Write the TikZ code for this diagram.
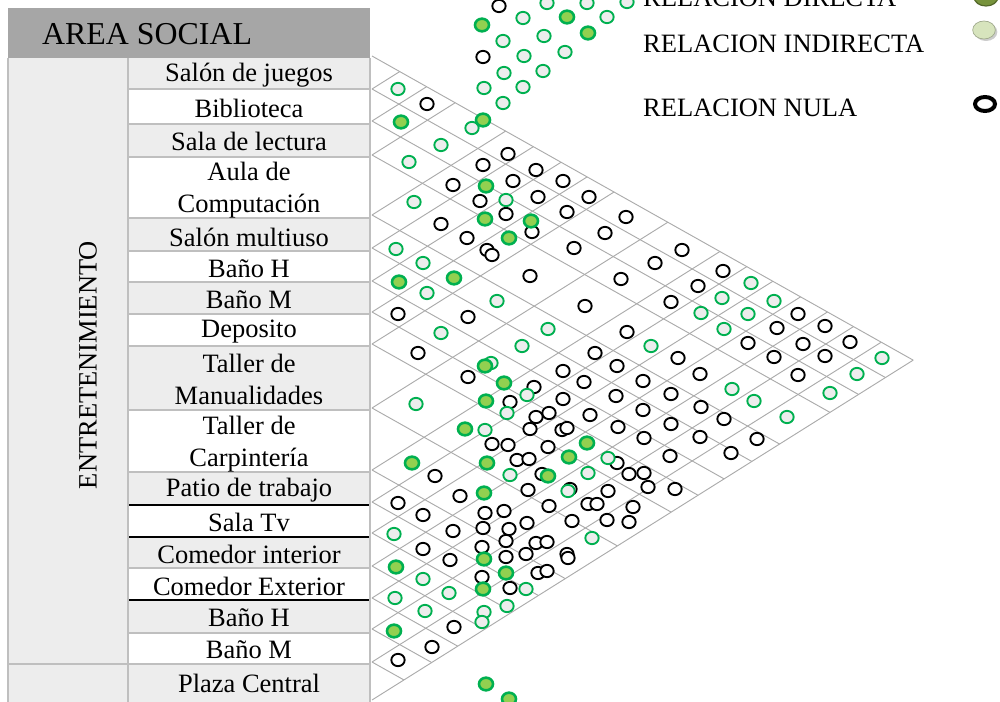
\documentclass[tikz,border=0pt]{standalone}
\usepackage{fontspec}
\setmainfont{Liberation Serif}
\usepackage{tikz}
\usetikzlibrary{positioning}
\definecolor{hdrgray}{HTML}{A6A6A6}
\definecolor{cellgray}{HTML}{EDEDED}
\definecolor{linegray}{HTML}{BFBFBF}
\definecolor{gridgray}{HTML}{ABABAB}
\definecolor{relgreen}{HTML}{00B050}
\definecolor{relfill}{HTML}{92D050}
\definecolor{legolive}{HTML}{77933C}
\definecolor{leglight}{HTML}{D7E4BD}

\begin{document}
\begin{tikzpicture}[x=0.03cm, y=-0.03cm,
  gridline/.style={draw=gridgray, line width=0.8pt},
  tline/.style={draw=linegray, line width=1.6pt},
  bline/.style={draw=black, line width=1.1pt},
  rowlabel/.style={font=\fontsize{22.6}{27.3}\selectfont, inner sep=0pt, align=center},
  hdrlabel/.style={font=\fontsize{27.2}{32}\selectfont, inner sep=0pt},
  nula/.style={draw=black, fill=white, line width=1.6pt},
  indirecta/.style={draw=relgreen, fill=cellgray, line width=1.6pt},
  directa/.style={draw=relgreen, fill=relfill, line width=2.2pt}]
\useasboundingbox (0,0) rectangle (1000,702);

\fill[hdrgray] (8,8) rectangle (370,58);
\fill[cellgray] (8,58) rectangle (128,702);
\foreach \ra/\rb in {58/89,124/157,218/251,282/314,346/410,472/505,537/568,600/633,664/702}
  \fill[cellgray] (128,\ra) rectangle (370,\rb);
\foreach \ry in {89,124,157,218,251,282,314,346,410,472,568,633,664}
  \draw[tline] (128,\ry) -- (370,\ry);
\foreach \ry in {505,537,600}
  \draw[bline] (128,\ry) -- (370,\ry);
\draw[tline] (8,664) -- (128,664);
\draw[tline] (8,58) -- (8,702);
\draw[tline] (128,58) -- (128,702);
\draw[tline] (370,58) -- (370,702);

\node[hdrlabel, anchor=west] (area) at (42,34) {AREA SOCIAL};
\node[rowlabel, rotate=90] (entret) at (88,365) {ENTRETENIMIENTO};
\node[rowlabel] (juegos) at (249,75) {Salón de juegos};
\node[rowlabel] (biblio) at (249,108) {Biblioteca};
\node[rowlabel] (lectura) at (249,141) {Sala de lectura};
\node[rowlabel] (aula) at (249,190) {Aula de\\Computación};
\node[rowlabel] (multiuso) at (249,237) {Salón multiuso};
\node[rowlabel] (banoh) at (249,269) {Baño H};
\node[rowlabel] (banom) at (249,300) {Baño M};
\node[rowlabel] (deposito) at (249,332) {Deposito};
\node[rowlabel] (manual) at (249,379) {Taller de\\Manualidades};
\node[rowlabel] (carpin) at (249,444) {Taller de\\Carpintería};
\node[rowlabel] (patio) at (249,490) {Patio de trabajo};
\node[rowlabel] (salatv) at (249,522) {Sala Tv};
\node[rowlabel] (cominter) at (249,554) {Comedor interior};
\node[rowlabel] (comexter) at (249,586) {Comedor Exterior};
\node[rowlabel] (banoh2) at (249,618) {Baño H};
\node[rowlabel] (banom2) at (249,650) {Baño M};
\node[rowlabel] (plaza) at (249,683) {Plaza Central};

\foreach \yk in {56,89,121,155,215,248,281,312,344,408,470,502,533,566,598,629,662,700} {
  \draw[gridline] (372,\yk) -- ++({(700-\yk)/1.19},{0.562*(700-\yk)/1.19});
  \draw[gridline] (372,\yk) -- ++({(\yk-56)/1.19},{-0.628*(\yk-56)/1.19});
}

\foreach \cx/\cy in {499/6,483/57,427/104,508/154,483/165,536/170,453/185,513/181,563/181,480/201,
  538/197,589/197,441/224,506/214,567/212,626/217,532/232,605/233,467/238,487/250,492/255,574/248,
  682/250,655/263,530/276,621/279,671/302,398/314,468/317,585/306,627/332,418/353,595/353,678/358,
  563/371,617/366,468/377,584/382,643/381,534/387,563/399,616/396,671/394,510/402,549/413,536/417,
  590/415,643/410,530/429,562/430,567/428,618/427,671/424,644/438,492/444,508/445,548/447,670/456,
  517/460,529/459,723/271,698/286,798/314,825/326,777/328,748/343,803/344,850/342,774/357,825/356,
  700/374,798/375,701/407,724/419,700/437,757/439,731/453,617/463,435/476,542/474,629/474,644/473,
  460/496,528/490,570/489,608/491,648/487,675/489,398/503,423/515,485/513,504/511,549/506,588/504,
  597/504,633/507,453/531,483/528,509/529,527/523,572/521,607/520,629/522,423/549,482/547,506/541,
  536/543,547/542,450/560,506/557,526/554,567/554,568/558,482/577,538/573,547/571,510/588,454/627,
  432/647,398/660}
  \draw[nula] (\cx,\cy) ellipse [x radius=0.2cm, y radius=0.185cm];

\foreach \cx/\cy in {547/3,587/3,627/2,523/18,607/17,503/41,544/36,524/56,565/52,504/73,543/71,
  484/88,523/87,503/103,472/128,398/89,441/145,409/162,414/202,506/200,396/249,423/263,427/293,
  497/301,548/329,441/333,522/346,651/346,491/363,527/395,416/404,507/413,485/430,608/458,751/283,
  722/298,774/301,701/313,748/314,724/329,882/358,857/374,830/393,732/389,754/401,787/417,510/475,
  588/473,568/491,394/534,592/538,423/579,449/593,526/589,395/598,425/611,484/612,482/622,507/606}
  \draw[indirecta] (\cx,\cy) ellipse [x radius=0.2cm, y radius=0.185cm];

\foreach \cx/\cy in {482/25,567/17,588/33,483/120,401/122,486/186,485/219,531/221,509/238,399/282,
  454/278,485/366,504/383,486/401,465/429,587/443,412/463,487/463,569/457,548/476,484/493,396/567,
  484/559,506/573,483/589,394/631,486/684,509/699}
  \draw[directa] (\cx,\cy) ellipse [x radius=0.21cm, y radius=0.19cm];

\node[rowlabel, anchor=base west] (ldirecta) at (643,7) {RELACION DIRECTA};
\node[rowlabel, anchor=base west] (lindirecta) at (643,53) {RELACION INDIRECTA};
\node[rowlabel, anchor=base west] (lnula) at (643,116) {RELACION NULA};
\filldraw[draw=legolive!70!black, fill=legolive, line width=1pt] (986,-3) ellipse [x radius=0.36cm, y radius=0.27cm];
\fill[black!20] (986,32) ellipse [x radius=0.34cm, y radius=0.27cm];
\filldraw[draw=leglight!75!black, fill=leglight, line width=0.6pt] (984,30) ellipse [x radius=0.34cm, y radius=0.27cm];
\draw[line width=3.4pt] (985,104) ellipse [x radius=0.3cm, y radius=0.21cm];
\end{tikzpicture}
\end{document}
